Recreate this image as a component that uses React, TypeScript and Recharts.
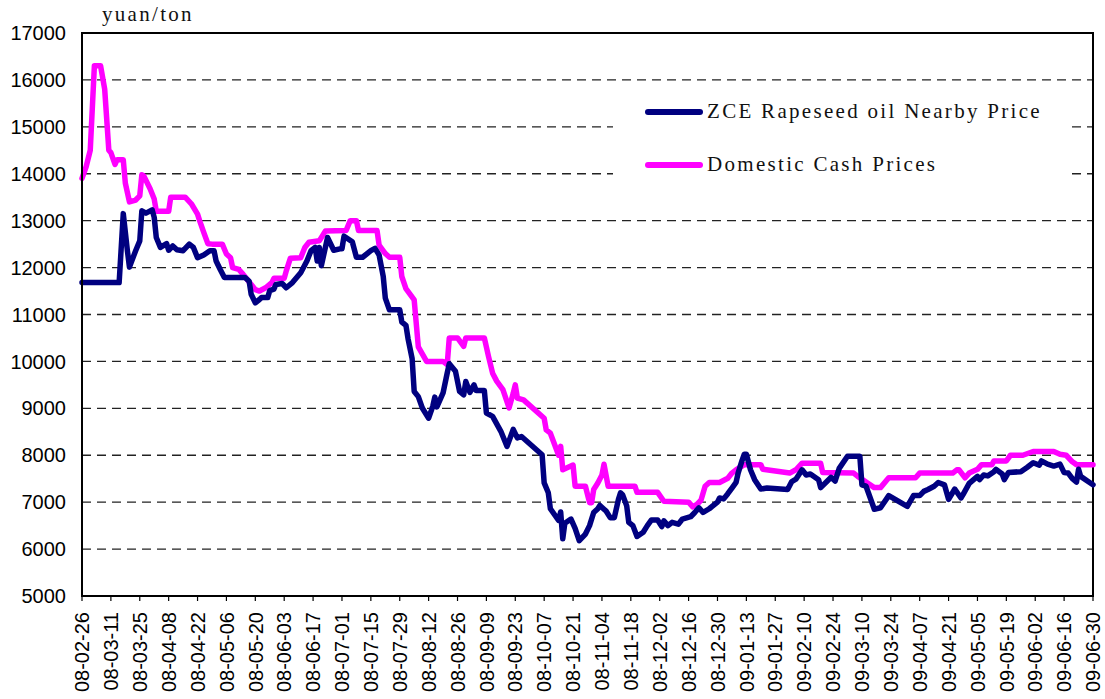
import React from "react";
import { LineChart, Line, XAxis, YAxis, CartesianGrid, Legend, ReferenceLine, ReferenceArea } from "recharts";

// Day offsets from 08-02-26 and values (yuan/ton)
const cashDays = [0,2,4,6,9,11,13,14,16,17,20,21,23,26,28,29,30,33,35,36,42,43,50,53,56,57,59,61,63,68,70,72,73,76,78,80,82,84,86,89,92,93,98,99,101,106,108,110,115,118,128,130,133,134,143,144,147,149,154,155,157,161,163,167,175,177,178,182,185,186,195,197,199,201,204,207,209,210,211,214,224,225,227,231,232,233,238,239,244,246,247,248,250,252,253,255,268,269,279,282,294,296,298,300,302,304,309,313,315,317,321,329,330,343,346,349,358,359,374,376,380,384,387,391,404,406,422,424,425,428,430,434,436,441,442,448,450,456,461,471,474,477,480,482,490];
const cashValues = [13900,14150,14500,16300,16300,15800,14500,14450,14200,14300,14300,13800,13400,13440,13530,13980,13950,13680,13460,13200,13200,13500,13500,13360,13140,13000,12750,12510,12500,12500,12290,12210,12000,11960,11860,11750,11640,11530,11500,11570,11680,11770,11770,11930,12200,12210,12430,12540,12570,12780,12790,13000,13000,12790,12790,12480,12300,12220,12220,11810,11550,11310,10310,10000,10000,9930,10500,10500,10320,10500,10500,10110,9750,9580,9400,9010,9320,9500,9220,9180,8790,8540,8470,8000,8190,7690,7790,7340,7340,6990,6990,7270,7410,7580,7810,7340,7340,7210,7210,7020,7000,6900,6950,7040,7340,7420,7420,7510,7620,7690,7800,7800,7700,7620,7690,7830,7830,7630,7620,7550,7430,7310,7310,7520,7520,7620,7620,7690,7690,7520,7620,7700,7800,7800,7880,7880,8000,8000,8080,8080,8020,8000,7860,7800,7800];

const zceDays = [0,18,20,22,23,26,28,29,31,34,35,36,38,41,42,44,46,49,52,54,56,59,62,64,65,67,69,79,81,82,84,86,87,90,91,93,94,97,99,102,106,109,111,113,114,115,116,119,122,125,126,127,131,133,136,140,142,144,146,147,149,154,155,157,158,160,161,163,165,168,170,171,172,175,177,178,181,183,185,186,188,190,191,195,196,199,203,206,209,211,213,223,224,226,227,231,232,233,234,237,239,241,244,246,248,250,251,253,254,256,258,260,261,262,264,265,267,269,272,274,276,279,281,282,284,286,289,291,295,297,299,301,304,308,309,311,313,315,317,318,320,321,322,324,326,329,332,342,344,346,349,351,353,357,358,361,363,365,367,371,377,378,380,384,387,391,396,400,403,406,408,410,413,415,418,420,423,426,427,430,434,435,437,439,442,443,446,447,449,455,458,461,464,465,468,471,474,476,478,480,482,483,484,488,490];
const zceValues = [11680,11680,13150,12360,12010,12360,12570,13210,13160,13230,13070,12640,12430,12510,12370,12460,12380,12360,12500,12430,12210,12270,12360,12360,12140,11960,11790,11790,11710,11430,11250,11320,11360,11360,11510,11540,11640,11660,11570,11680,11890,12140,12360,12430,12140,12430,12040,12640,12370,12400,12400,12670,12550,12220,12220,12360,12410,12270,11810,11350,11100,11100,10840,10770,10490,10060,9360,9250,9000,8790,9040,9240,9030,9330,9750,9950,9790,9360,9290,9570,9340,9500,9380,9380,8900,8830,8510,8190,8550,8370,8400,8010,7410,7200,6860,6610,6790,6220,6550,6640,6440,6180,6320,6500,6780,6860,6930,6850,6810,6670,6670,7060,7200,7160,6920,6570,6500,6270,6360,6500,6620,6620,6480,6600,6500,6570,6530,6640,6690,6780,6880,6780,6860,7000,7090,7070,7180,7300,7420,7620,7900,8020,8020,7690,7480,7280,7300,7270,7440,7490,7690,7580,7600,7480,7310,7440,7530,7450,7720,7980,7980,7370,7340,6850,6880,7140,7010,6910,7140,7140,7230,7270,7340,7420,7370,7060,7280,7090,7160,7400,7550,7480,7580,7560,7650,7700,7600,7480,7630,7650,7740,7840,7790,7880,7810,7770,7810,7630,7620,7500,7430,7700,7550,7430,7370];

const tickLabels = ["08-02-26","08-03-11","08-03-25","08-04-08","08-04-22","08-05-06","08-05-20","08-06-03","08-06-17","08-07-01","08-07-15","08-07-29","08-08-12","08-08-26","08-09-09","08-09-23","08-10-07","08-10-21","08-11-04","08-11-18","08-12-02","08-12-16","08-12-30","09-01-13","09-01-27","09-02-10","09-02-24","09-03-10","09-03-24","09-04-07","09-04-21","09-05-05","09-05-19","09-06-02","09-06-16","09-06-30"];
const yTicks = [5000,6000,7000,8000,9000,10000,11000,12000,13000,14000,15000,16000,17000];
const gridValues = [6000,7000,8000,9000,10000,11000,12000,13000,14000,15000,16000];

const seriesNames = ["ZCE Rapeseed oil Nearby Price", "Domestic Cash Prices"];
const seriesColors = ["#000080", "#FF00FF"];
const unitLabel = "yuan/ton";

const zceData = zceDays.map((d, i) => ({ d, v: zceValues[i] }));
const cashData = cashDays.map((d, i) => ({ d, v: cashValues[i] }));
const xTicks = tickLabels.map((_, i) => i * 14);

const serifFont = "'Liberation Serif', 'DejaVu Serif', serif";
const sansFont = "'Liberation Sans', Arial, sans-serif";

const XTick = (props: any) => {
  const { x, y, payload } = props;
  const label = tickLabels[Math.round(payload.value / 14)];
  return (
    <text
      x={x}
      y={y}
      transform={`rotate(-90, ${x}, ${y})`}
      textAnchor="end"
      dy="0.36em"
      fontSize={20}
      fontFamily={sansFont}
      fill="#000"
    >
      {label}
    </text>
  );
};

const LegendBox = () => (
  <div style={{ position: "relative", width: 454, height: 110, background: "#fff" }}>
    {seriesNames.map((name, i) => (
      <div key={name} style={{ position: "absolute", left: 0, top: 20 + i * 53, width: 454, height: 0 }}>
        <div
          style={{
            position: "absolute",
            left: 32,
            top: -3,
            width: 58,
            height: 6,
            borderRadius: 3,
            background: seriesColors[i],
          }}
        />
        <div
          style={{
            position: "absolute",
            left: 94,
            top: -13,
            fontFamily: serifFont,
            fontSize: 21,
            letterSpacing: 2.3,
            lineHeight: "24px",
            color: "#111",
            whiteSpace: "nowrap",
          }}
        >
          {name}
        </div>
      </div>
    ))}
  </div>
);

const gridGenerator = (props: any) => {
  const scale = props?.yAxis?.scale;
  if (typeof scale === "function") return gridValues.map((v) => scale(v));
  if (scale && typeof scale.map === "function") return gridValues.map((v) => scale.map(v));
  return [];
};

export default function App() {
  return (
    <div style={{ position: "fixed", left: 0, top: 0, width: 1105, height: 699, background: "#fff" }}>
      <LineChart width={1105} height={699} margin={{ top: 33, right: 12, bottom: 0, left: 0 }}>
        <CartesianGrid
          vertical={false}
          stroke="#222"
          strokeDasharray="9 6"
          strokeWidth={1.3}
          horizontalCoordinatesGenerator={gridGenerator}
        />
        <XAxis
          dataKey="d"
          type="number"
          domain={[0, 490]}
          ticks={xTicks}
          interval={0}
          height={103}
          tickSize={5}
          tickMargin={11}
          tick={<XTick />}
          axisLine={{ stroke: "#000", strokeWidth: 2 }}
          tickLine={{ stroke: "#000", strokeWidth: 1.2 }}
        />
        <YAxis
          type="number"
          domain={[5000, 17000]}
          ticks={yTicks}
          interval={0}
          width={82}
          tickLine={false}
          tickSize={0}
          tickMargin={16}
          axisLine={{ stroke: "#000", strokeWidth: 2 }}
          tick={{ fontSize: 20, fontFamily: sansFont, fill: "#000" }}
          label={{
            content: () => (
              <text x={102} y={21} fontFamily={serifFont} fontSize={21} letterSpacing={2.3} fill="#111">
                {unitLabel}
              </text>
            ),
          }}
        />
        <ReferenceArea x1={0} x2={490} y1={5000} y2={17000} fill="none" fillOpacity={0} stroke="#000" strokeWidth={2} />
        <ReferenceLine y={17000} stroke="#000" strokeWidth={2} />
        <ReferenceLine x={490} stroke="#000" strokeWidth={2} />
        <Legend
          layout="vertical"
          align="center"
          verticalAlign="middle"
          wrapperStyle={{ left: 613, top: 92, width: 454, height: 110 }}
          content={() => <LegendBox />}
        />
        <Line
          data={cashData}
          dataKey="v"
          name={seriesNames[1]}
          stroke={seriesColors[1]}
          strokeWidth={5.5}
          dot={false}
          type="linear"
          strokeLinejoin="round"
          strokeLinecap="round"
          isAnimationActive={false}
        />
        <Line
          data={zceData}
          dataKey="v"
          name={seriesNames[0]}
          stroke={seriesColors[0]}
          strokeWidth={5.5}
          dot={false}
          type="linear"
          strokeLinejoin="round"
          strokeLinecap="round"
          isAnimationActive={false}
        />
      </LineChart>
    </div>
  );
}
